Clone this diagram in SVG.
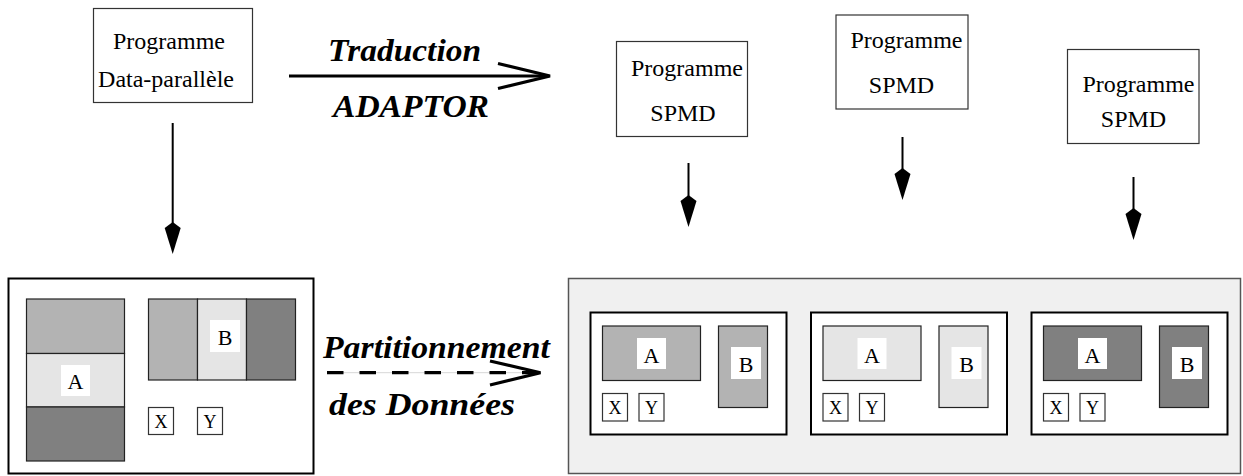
<svg xmlns="http://www.w3.org/2000/svg" xmlns:xlink="http://www.w3.org/1999/xlink" width="1243" height="476" viewBox="0 0 1243 476">
<style>
.prog{fill:#fff;stroke:#333;stroke-width:1.2}
.t{font-family:"Liberation Serif","Times New Roman",serif;font-size:24px;fill:#000;text-anchor:middle}
.bi{font-family:"Liberation Serif","Times New Roman",serif;font-size:32px;font-weight:bold;font-style:italic;fill:#000}
.lab{font-family:"Liberation Serif","Times New Roman",serif;font-size:22px;fill:#000;text-anchor:middle}
.xy{font-family:"Liberation Serif","Times New Roman",serif;font-size:18px;fill:#000;text-anchor:middle}
.cell{stroke:#222;stroke-width:1.2}
.frame{fill:#fff;stroke:#000;stroke-width:2}
.wb{fill:#fff}
.xyb{fill:#fff;stroke:#333;stroke-width:1.2}
.g1{fill:#b3b3b3}.g2{fill:#e5e5e5}.g3{fill:#808080}
.ln{stroke:#000;stroke-width:2;fill:none}
</style>
<defs>
<path id="dhead" d="M0,0 L8,6 L0,32 L-8,6 Z" fill="#000"/>
</defs>

<g id="prog-dp">
<rect class="prog" x="93.5" y="8.5" width="159" height="94"/>
<text class="t" x="169" y="49">Programme</text>
<text class="t" x="166" y="87">Data-parallèle</text>
</g>

<g id="prog-spmd-1">
<rect class="prog" x="616.5" y="41.5" width="131" height="95"/>
<text class="t" x="687" y="76">Programme</text>
<text class="t" x="683" y="121">SPMD</text>
</g>
<g id="prog-spmd-2">
<rect class="prog" x="836" y="15" width="132" height="94"/>
<text class="t" x="906.5" y="48">Programme</text>
<text class="t" x="901.5" y="93">SPMD</text>
</g>
<g id="prog-spmd-3">
<rect class="prog" x="1067.5" y="49.5" width="131.5" height="94"/>
<text class="t" x="1138.5" y="92">Programme</text>
<text class="t" x="1133.5" y="127">SPMD</text>
</g>

<g id="labels">
<text class="bi" x="328" y="61" textLength="153" lengthAdjust="spacingAndGlyphs">Traduction</text>
<text class="bi" x="333" y="117" textLength="156" lengthAdjust="spacingAndGlyphs">ADAPTOR</text>
<text class="bi" x="323" y="358" textLength="227" lengthAdjust="spacingAndGlyphs">Partitionnement</text>
<text class="bi" x="329" y="415" textLength="186" lengthAdjust="spacingAndGlyphs">des Données</text>
</g>

<g id="data-global">
<rect class="frame" x="8.5" y="278.5" width="305" height="195"/>
<rect class="cell g1" x="26.5" y="299" width="98" height="54.5"/>
<rect class="cell g2" x="26.5" y="353.5" width="98" height="53.5"/>
<rect class="cell g3" x="26.5" y="407" width="98" height="54"/>
<rect class="wb" x="61" y="365" width="29" height="31"/>
<text class="lab" x="75.5" y="389">A</text>
<rect class="cell g1" x="148.5" y="299" width="49" height="81"/>
<rect class="cell g2" x="197.5" y="299" width="49" height="81"/>
<rect class="cell g3" x="246.5" y="299" width="49" height="81"/>
<rect class="wb" x="210" y="320" width="30" height="32"/>
<text class="lab" x="225" y="345">B</text>
<rect class="xyb" x="148.5" y="407.5" width="25" height="27"/>
<text class="xy" x="161" y="428">X</text>
<rect class="xyb" x="197.5" y="407.5" width="25" height="27"/>
<text class="xy" x="210" y="428">Y</text>
</g>

<g id="data-distributed">
<rect x="568.5" y="278.5" width="672" height="195" fill="#f0f0f0" stroke="#555" stroke-width="1.5"/>
</g>

<g id="proc-1">
<rect class="frame" x="590.5" y="312.5" width="196" height="122"/>
<rect class="cell g1" x="602.5" y="326" width="98" height="54.5"/>
<rect class="wb" x="637" y="338" width="29" height="31"/>
<text class="lab" x="651.5" y="362.5">A</text>
<rect class="cell g1" x="718.5" y="326" width="49" height="81.5"/>
<rect class="wb" x="731" y="347" width="30" height="32"/>
<text class="lab" x="746" y="371.5">B</text>
<rect class="xyb" x="602.5" y="393.5" width="25" height="27.5"/>
<text class="xy" x="615" y="413.5">X</text>
<rect class="xyb" x="639" y="393.5" width="25" height="27.5"/>
<text class="xy" x="651.5" y="413.5">Y</text>
</g>

<g id="proc-2">
<rect class="frame" x="811" y="312.5" width="196" height="122"/>
<rect class="cell g2" x="823" y="326" width="98" height="54.5"/>
<rect class="wb" x="857.5" y="338" width="29" height="31"/>
<text class="lab" x="872" y="362.5">A</text>
<rect class="cell g2" x="939" y="326" width="49" height="81.5"/>
<rect class="wb" x="951.5" y="347" width="30" height="32"/>
<text class="lab" x="966.5" y="371.5">B</text>
<rect class="xyb" x="823" y="393.5" width="25" height="27.5"/>
<text class="xy" x="835.5" y="413.5">X</text>
<rect class="xyb" x="859.5" y="393.5" width="25" height="27.5"/>
<text class="xy" x="872" y="413.5">Y</text>
</g>

<g id="proc-3">
<rect class="frame" x="1031.5" y="312.5" width="196" height="122"/>
<rect class="cell g3" x="1043.5" y="326" width="98" height="54.5"/>
<rect class="wb" x="1078" y="338" width="29" height="31"/>
<text class="lab" x="1092.5" y="362.5">A</text>
<rect class="cell g3" x="1159.5" y="326" width="49" height="81.5"/>
<rect class="wb" x="1172" y="347" width="30" height="32"/>
<text class="lab" x="1187" y="371.5">B</text>
<rect class="xyb" x="1043.5" y="393.5" width="25" height="27.5"/>
<text class="xy" x="1056" y="413.5">X</text>
<rect class="xyb" x="1080" y="393.5" width="25" height="27.5"/>
<text class="xy" x="1092.5" y="413.5">Y</text>
</g>

<g id="connectors">
<line x1="289" y1="76" x2="548" y2="76" stroke="#000" stroke-width="3.2"/>
<polyline points="498,63.5 550,76 498,88.5" fill="none" stroke="#000" stroke-width="3.2"/>
<line x1="327" y1="372.7" x2="538" y2="372.7" stroke="#ccc" stroke-width="0.8"/>
<line x1="327" y1="372.7" x2="538" y2="372.7" stroke="#000" stroke-width="3.2" stroke-dasharray="16.5 16"/>
<polyline points="490,361 540.5,372.7 490,385" fill="none" stroke="#000" stroke-width="3.2"/>
<line class="ln" x1="172.7" y1="123" x2="172.7" y2="223"/>
<use xlink:href="#dhead" x="172.7" y="222"/>
<line class="ln" x1="688.5" y1="163" x2="688.5" y2="196"/>
<use xlink:href="#dhead" x="688.5" y="195"/>
<line class="ln" x1="902.5" y1="137" x2="902.5" y2="169"/>
<use xlink:href="#dhead" x="902.5" y="168"/>
<line class="ln" x1="1133.5" y1="177" x2="1133.5" y2="209"/>
<use xlink:href="#dhead" x="1133.5" y="208"/>
</g>
</svg>
